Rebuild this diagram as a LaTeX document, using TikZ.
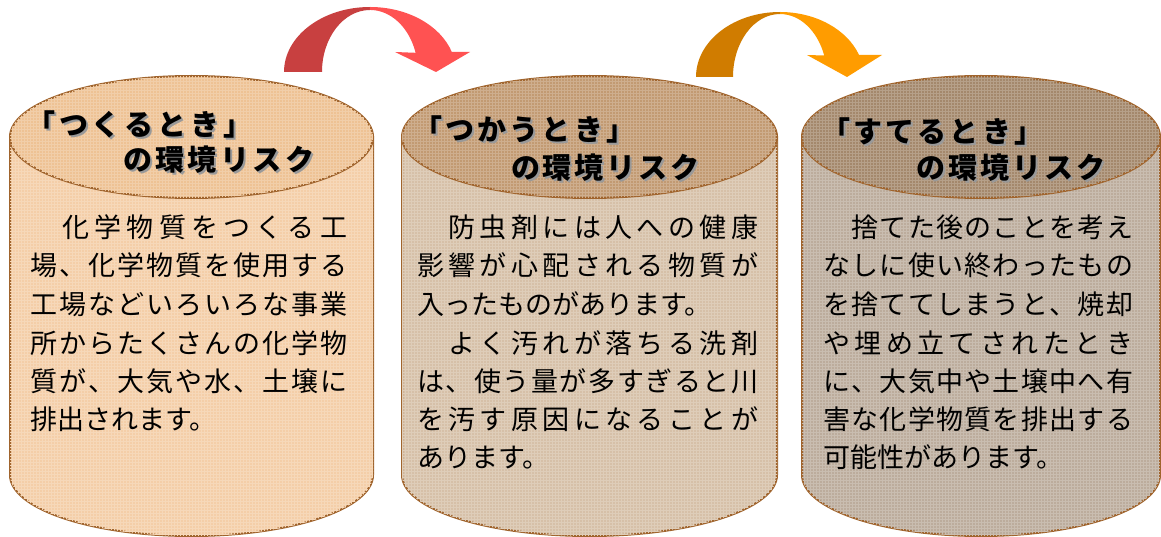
\documentclass[tikz,border=0pt]{standalone}
\usepackage{fontspec}
\usepackage{tikz}
\usetikzlibrary{patterns}
\newfontfamily\jpfont{Noto Sans CJK JP}
\definecolor{rimbrown}{RGB}{160,100,45}
\definecolor{makebody}{RGB}{244,206,168}
\definecolor{maketop}{RGB}{238,194,148}
\definecolor{usebody}{RGB}{214,192,168}
\definecolor{usetop}{RGB}{194,154,114}
\definecolor{throwbody}{RGB}{188,172,156}
\definecolor{throwtop}{RGB}{164,136,108}
\definecolor{arrowred}{RGB}{255,82,82}
\definecolor{arrowreddark}{RGB}{200,64,64}
\definecolor{arroworange}{RGB}{255,156,0}
\definecolor{arroworangedark}{RGB}{208,124,0}

\tikzset{
    rim/.style={draw=rimbrown, line width=2pt},
    weave/.style={pattern=grid, pattern color=#1!80!white},
    titletext/.style={anchor=base west, inner sep=0pt, font=\jpfont\bfseries\fontsize{29}{29}\selectfont},
    shadowtext/.style={titletext, text=black!40},
    bodytext/.style={anchor=base west, inner sep=0pt, font=\jpfont\fontsize{27}{27}\selectfont}
}

% spread the characters of a line over a box
\def\spaced#1{\spacedrun#1\stopspaced}
\def\spacedrun#1#2\stopspaced{#1\ifx\stopspaced#2\stopspaced\else\hfil\spacedrun#2\stopspaced\fi}

% center x, half width, body colour, top colour
\newcommand\drum[4]{
    \path[fill=#3, rim] (#1-#2,137) -- (#1-#2,475)
        arc[start angle=180, end angle=360, x radius=#2pt, y radius=61pt] -- (#1+#2,137) -- cycle;
    \path[weave=#3] (#1-#2,137) -- (#1-#2,475)
        arc[start angle=180, end angle=360, x radius=#2pt, y radius=61pt] -- (#1+#2,137) -- cycle;
    \path[fill=#4, rim] (#1,137) ellipse[x radius=#2pt, y radius=61pt];
    \path[weave=#4] (#1,137) ellipse[x radius=#2pt, y radius=61pt];
}
\newcommand\titlerow[5]{
    \node[shadowtext] (#1s) at (#2+2,#3+2) {\makebox[#4pt][s]{\spaced{#5}}};
    \node[titletext] (#1) at (#2,#3) {\makebox[#4pt][s]{\spaced{#5}}};
}
\newcommand\fullline[5]{\node[bodytext] (#1) at (#2,#3) {\makebox[#4pt][s]{\spaced{#5}}};}
\newcommand\lastline[4]{\node[bodytext] (#1) at (#2,#3) {#4};}

\begin{document}
\begin{tikzpicture}[x=1pt, y=-1pt]
    \useasboundingbox (0,0) rectangle (1161,537);

    \drum{191.5}{181.5}{makebody}{maketop}
    \drum{589.5}{187.5}{usebody}{usetop}
    \drum{981}{179}{throwbody}{throwtop}

    % curved arrows
    \fill[arrowreddark] (284,72)
        arc[start angle=180, end angle=90, x radius=86pt, y radius=65pt] -- (370,10)
        arc[start angle=90, end angle=180, x radius=48pt, y radius=62pt] -- cycle;
    \fill[arrowred] (370,7)
        arc[start angle=90, end angle=18, x radius=86pt, y radius=65pt]
        -- (470,52) -- (436,72) -- (395,52) -- (415.6,52.8)
        arc[start angle=18, end angle=90, x radius=48pt, y radius=62pt] -- cycle;
    \fill[arroworangedark] (696,77)
        arc[start angle=180, end angle=90, x radius=84pt, y radius=65pt] -- (780,14)
        arc[start angle=90, end angle=180, x radius=47pt, y radius=63pt] -- cycle;
    \fill[arroworange] (780,12)
        arc[start angle=90, end angle=20, x radius=84pt, y radius=65pt]
        -- (882,55) -- (847,77) -- (807,55) -- (824.2,55.5)
        arc[start angle=20, end angle=90, x radius=47pt, y radius=63pt] -- cycle;

    % titles
    \titlerow{make-t1}{26}{136}{226}{「つくるとき」}
    \titlerow{make-t2}{123}{171}{191}{の環境リスク}
    \titlerow{use-t1}{413}{141}{222}{「つかうとき」}
    \titlerow{use-t2}{511}{179}{188}{の環境リスク}
    \titlerow{throw-t1}{821}{143}{222}{「すてるとき」}
    \titlerow{throw-t2}{916}{179}{189}{の環境リスク}

    % making
    \fullline{make1}{30}{238}{317}{　化学物質をつくる工}
    \fullline{make2}{30}{276}{317}{場、化学物質を使用する}
    \fullline{make3}{30}{314}{317}{工場などいろいろな事業}
    \fullline{make4}{30}{353}{317}{所からたくさんの化学物}
    \fullline{make5}{30}{391}{317}{質が、大気や水、土壌に}
    \lastline{make6}{30}{429}{排出されます。}

    % using
    \fullline{use1}{417}{238}{341}{　防虫剤には人への健康}
    \fullline{use2}{417}{276}{341}{影響が心配される物質が}
    \lastline{use3}{417}{314}{入ったものがあります。}
    \fullline{use4}{417}{353}{341}{　よく汚れが落ちる洗剤}
    \fullline{use5}{417}{391}{341}{は、使う量が多すぎると川}
    \fullline{use6}{417}{429}{341}{を汚す原因になることが}
    \lastline{use7}{417}{467}{あります。}

    % throwing away
    \fullline{throw1}{823}{238}{310}{　捨てた後のことを考え}
    \fullline{throw2}{823}{276}{310}{なしに使い終わったもの}
    \fullline{throw3}{823}{314}{310}{を捨ててしまうと、焼却}
    \fullline{throw4}{823}{353}{310}{や埋め立てされたとき}
    \fullline{throw5}{823}{391}{310}{に、大気中や土壌中へ有}
    \fullline{throw6}{823}{429}{310}{害な化学物質を排出する}
    \lastline{throw7}{823}{467}{可能性があります。}
\end{tikzpicture}
\end{document}
